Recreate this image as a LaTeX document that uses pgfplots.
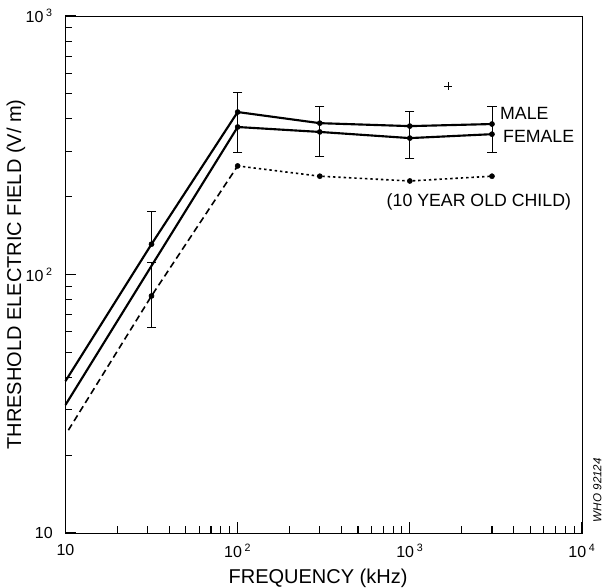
\documentclass[border=0pt]{standalone}
\usepackage{fontspec}
\setmainfont{Liberation Sans}
\usepackage{pgfplots}
\pgfplotsset{compat=1.18}

\begin{document}
\begin{tikzpicture}
\begin{axis}[
  scale only axis,
  width=387.4pt, height=387.75pt,
  xmode=log, ymode=log,
  xmin=10, xmax=10000, ymin=10, ymax=1000,
  tick align=inside,
  xtick pos=left, ytick pos=left,
  major tick length=8pt,
  minor tick length=5pt,
  xtick={10,100,1000,10000},
  xticklabels={10, 10\,\textsuperscript{2}, 10\,\textsuperscript{3}, 10\,\textsuperscript{4}},
  ytick={10,100,1000},
  yticklabels={10, 10\,\textsuperscript{2}, 10\,\textsuperscript{3}},
  minor xtick={20,30,40,50,60,70,80,90,200,300,400,500,600,700,800,900,2000,3000,4000,5000,6000,7000,8000,9000},
  minor ytick={20,30,40,50,60,70,80,90,200,300,400,500,600,700,800,900},
  xtick style={black, line width=0.8pt},
  ytick style={black, line width=0.8pt},
  axis line style={line width=0.6pt},
  tick label style={font=\fontsize{12}{14}\selectfont},
  xticklabel style={yshift=-5pt},
  yticklabel style={xshift=-6pt},
  label style={font=\fontsize{15}{18}\selectfont},
  xlabel={FREQUENCY (kHz)},
  ylabel={THRESHOLD ELECTRIC FIELD (V/ m)},
  xlabel style={at={(axis description cs:0.489,-0.087)}, anchor=center},
  ylabel style={at={(axis description cs:-0.096,0.5)}, anchor=center},
  clip=false,
]
% curves
\addplot[black, line width=1.6pt] coordinates {(10,38.7) (31.6,131) (100,425) (300,385) (1000,375) (3000,382)};
\addplot[black, line width=1.6pt] coordinates {(10,31.3) (31.6,108) (100,372) (300,356) (1000,337) (3000,349)};
\addplot[black, line width=1.2pt, dash pattern=on 5pt off 3pt] coordinates {(10.4,25) (31.6,82.6) (100,263)};
\addplot[black, line width=1.2pt, dash pattern=on 1.8pt off 2.2pt] coordinates {(100,263) (300,240) (1000,230) (3000,240)};

% error bars (vertical segments)
\addplot[black, line width=0.6pt] coordinates {(31.6,131) (31.6,176)};
\addplot[black, line width=0.6pt] coordinates {(31.6,62.7) (31.6,111)};
\addplot[black, line width=0.6pt] coordinates {(100,298) (100,508)};
\addplot[black, line width=0.6pt] coordinates {(300,287) (300,445)};
\addplot[black, line width=0.6pt] coordinates {(1000,280) (1000,429)};
\addplot[black, line width=0.6pt] coordinates {(3000,298) (3000,445)};
% error bar caps
\addplot[black, only marks, mark=-, mark size=3.5pt, mark options={line width=0.6pt}]
  coordinates {(31.6,176) (31.6,111) (31.6,62.7) (100,508) (100,298) (300,445) (300,287)
               (1000,429) (1000,280) (3000,445) (3000,298)};

% data points
\addplot[black, only marks, mark=*, mark size=1.9pt] coordinates {(31.6,131) (100,425) (300,385) (1000,375) (3000,382)};
\addplot[black, only marks, mark=*, mark size=1.9pt] coordinates {(100,372) (300,356) (1000,337) (3000,349)};
\addplot[black, only marks, mark=*, mark size=1.9pt] coordinates {(31.6,82.6) (100,263) (300,240) (1000,230) (3000,240)};
\addplot[black, only marks, mark=+, mark size=3pt, mark options={line width=0.6pt}] coordinates {(1664,536)};

\node[anchor=west, font=\fontsize{13.3}{15}\selectfont, inner sep=0pt] at (axis cs:3337,421) {MALE};
\node[anchor=west, font=\fontsize{13.3}{15}\selectfont, inner sep=0pt] at (axis cs:3475,343) {FEMALE};
\node[anchor=center, font=\fontsize{13.3}{15}\selectfont, inner sep=0pt] at (axis cs:2518,190.7) {(10 YEAR OLD CHILD)};
\node[rotate=90, anchor=center, font=\itshape\fontsize{8.7}{10}\selectfont, inner sep=0pt]
  at (axis description cs:1.03,0.083) {WHO 92124};
\end{axis}
\pgfresetboundingbox
\path (-49.1pt,-41.25pt) rectangle (405.4pt,399.75pt);
\end{tikzpicture}
\end{document}
